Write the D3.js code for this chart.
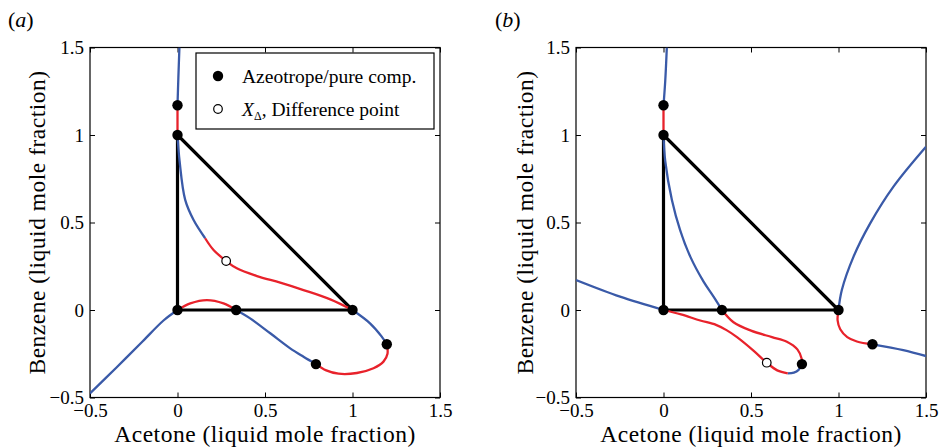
<!DOCTYPE html>
<html>
<head>
<meta charset="utf-8">
<script src="https://cdn.jsdelivr.net/npm/d3@7"></script>
<style>
  body { margin: 0; background: #fff; }
  svg { display: block; }
  svg text { font-family: "Liberation Serif", "Times New Roman", serif; fill: #000; }
</style>
</head>
<body>
<svg id="chart" width="939" height="448"></svg>
<script>
// ---------- data ----------
const xTickValues = [-0.5, 0, 0.5, 1, 1.5];
const yTickValues = [-0.5, 0, 0.5, 1, 1.5];
const tickLabels = ["\u22120.5", "0", "0.5", "1", "1.5"];
const panelLabels = ["a", "b"];
const xAxisTitle = "Acetone (liquid mole fraction)";
const yAxisTitle = "Benzene (liquid mole fraction)";
const legendLabels = ["Azeotrope/pure comp.", "Difference point"];

// triangle (pure components)
const triangle = [[0, 0], [1, 0], [0, 1], [0, 0]];

// Panel (a) curve segments
const aBlueTop = [[0.011, 1.5], [0.005, 1.33], [0, 1.17]];
const aRedTop = [[0, 1.17], [0, 1.0]];
const aBlueMid = [[0, 1.0], [0.012, 0.85], [0.044, 0.629], [0.092, 0.514], [0.158, 0.41]];
const aRedMid = [[0.158, 0.41], [0.206, 0.343], [0.278, 0.28], [0.339, 0.238], [0.454, 0.194], [0.587, 0.156], [0.72, 0.114], [0.873, 0.061], [1, 0]];
const aBlueRight = [[1, 0], [1.1, -0.076], [1.167, -0.152], [1.196, -0.196]];
const aRedLoop = [[1.196, -0.196], [1.2, -0.25], [1.177, -0.295], [1.12, -0.333], [1.025, -0.36], [0.92, -0.364], [0.85, -0.345], [0.791, -0.309]];
const aBlueLower = [[0.791, -0.309], [0.72, -0.267], [0.644, -0.219], [0.53, -0.133], [0.415, -0.048], [0.335, 0]];
const aRedArc = [[0.335, 0], [0.263, 0.038], [0.168, 0.057], [0.073, 0.038], [0, 0]];
const aBlueLeft = [[0, 0], [-0.08, -0.06], [-0.2, -0.18], [-0.35, -0.33], [-0.5, -0.476]];
const aAzeotropes = [[0, 1.17], [0, 1], [0, 0], [0.335, 0], [1, 0], [1.196, -0.196], [0.791, -0.309]];
const aDifference = [[0.278, 0.28]];

// Panel (b) curve segments
const bBlueTop = [[0.019, 1.5], [0.01, 1.31], [0, 1.17]];
const bRedTop = [[0, 1.17], [0, 1.0]];
const bBlueMid = [[0, 1.0], [0.01, 0.85], [0.048, 0.629], [0.095, 0.457], [0.153, 0.305], [0.229, 0.162], [0.286, 0.076], [0.334, 0]];
const bRedLobe = [[0.334, 0], [0.4, -0.07], [0.5, -0.118], [0.62, -0.155], [0.705, -0.181], [0.765, -0.225], [0.79, -0.28], [0.791, -0.309]];
const bBlueTip = [[0.791, -0.309], [0.772, -0.342], [0.745, -0.358], [0.71, -0.362]];
const bRedLower = [[0.71, -0.362], [0.65, -0.345], [0.59, -0.301], [0.514, -0.232], [0.42, -0.155], [0.36, -0.115], [0.3, -0.085], [0.21, -0.06], [0.1, -0.025], [0, 0]];
const bBlueLeft = [[0, 0], [-0.248, 0.076], [-0.5, 0.171]];
const bBlueRightUp = [[1, 0], [1.019, 0.114], [1.086, 0.305], [1.181, 0.495], [1.314, 0.705], [1.5, 0.933]];
const bRedRight = [[1, 0], [0.995, -0.06], [1.01, -0.11], [1.05, -0.155], [1.105, -0.18], [1.194, -0.196]];
const bBlueRightDown = [[1.194, -0.196], [1.37, -0.229], [1.5, -0.263]];
const bAzeotropes = [[0, 1.17], [0, 1], [0, 0], [0.334, 0], [1, 0], [1.194, -0.196], [0.791, -0.309]];
const bDifference = [[0.59, -0.301]];

const panels = [
  { key: "a", left: 90, blue: [aBlueTop, aBlueMid, aBlueRight, aBlueLower, aBlueLeft],
    red: [aRedTop, aRedMid, aRedLoop, aRedArc], az: aAzeotropes, diff: aDifference,
    legend: true, labelX: 8, ylabX: 45 },
  { key: "b", left: 576, blue: [bBlueTop, bBlueMid, bBlueTip, bBlueLeft, bBlueRightUp, bBlueRightDown],
    red: [bRedTop, bRedLobe, bRedLower, bRedRight], az: bAzeotropes, diff: bDifference,
    legend: false, labelX: 495, ylabX: 533 }
];

// ---------- drawing ----------
const BLUE = "#3a5aa8", RED = "#e8222b";
const FONT = "'Liberation Serif', 'Times New Roman', serif";
const svg = d3.select("#chart");
const plotTop = 47.5, size = 350;

panels.forEach((p, i) => {
  const x = d3.scaleLinear().domain([-0.5, 1.5]).range([p.left, p.left + size]);
  const y = d3.scaleLinear().domain([-0.5, 1.5]).range([plotTop + size, plotTop]);
  const g = svg.append("g");

  const clipId = "clip" + p.key;
  svg.append("clipPath").attr("id", clipId).append("rect")
    .attr("x", p.left).attr("y", plotTop).attr("width", size).attr("height", size);

  const fmt = (d) => tickLabels[xTickValues.indexOf(d)];
  const axB = g.append("g").attr("transform", `translate(0,${plotTop + size})`)
    .call(d3.axisBottom(x).tickValues(xTickValues).tickSize(-5).tickPadding(6).tickFormat(fmt));
  const axT = g.append("g").attr("transform", `translate(0,${plotTop})`)
    .call(d3.axisTop(x).tickValues(xTickValues).tickSize(-5).tickFormat(""));
  const axL = g.append("g").attr("transform", `translate(${p.left},0)`)
    .call(d3.axisLeft(y).tickValues(yTickValues).tickSize(-5).tickPadding(6)
      .tickFormat((d) => tickLabels[yTickValues.indexOf(d)]));
  const axR = g.append("g").attr("transform", `translate(${p.left + size},0)`)
    .call(d3.axisRight(y).tickValues(yTickValues).tickSize(-5).tickFormat(""));
  [axB, axT, axL, axR].forEach(a => {
    a.attr("font-family", null).attr("font-size", null);
    a.select(".domain").remove();
    a.selectAll("line").attr("stroke", "#000").attr("stroke-width", 1);
    a.selectAll("text").style("font-family", FONT).style("font-size", "19px").attr("fill", "#000");
  });
  axB.selectAll("text").attr("dy", "0.71em");

  g.append("rect").attr("x", p.left).attr("y", plotTop).attr("width", size).attr("height", size)
    .attr("fill", "none").attr("stroke", "#000").attr("stroke-width", 1.2);

  const plot = g.append("g").attr("clip-path", `url(#${clipId})`);
  const line = d3.line().x(d => x(d[0])).y(d => y(d[1])).curve(d3.curveCatmullRom.alpha(0.5));
  const straight = d3.line().x(d => x(d[0])).y(d => y(d[1]));

  plot.append("path").attr("d", straight(triangle)).attr("fill", "none")
    .attr("stroke", "#000").attr("stroke-width", 3.2).attr("stroke-linejoin", "round");

  p.blue.forEach(seg => plot.append("path").attr("d", line(seg)).attr("fill", "none")
    .attr("stroke", BLUE).attr("stroke-width", 2.3));
  p.red.forEach(seg => plot.append("path").attr("d", line(seg)).attr("fill", "none")
    .attr("stroke", RED).attr("stroke-width", 2.3));

  plot.selectAll("circle.az").data(p.az).enter().append("circle").attr("class", "az")
    .attr("cx", d => x(d[0])).attr("cy", d => y(d[1])).attr("r", 5.2).attr("fill", "#000");
  plot.selectAll("circle.diff").data(p.diff).enter().append("circle").attr("class", "diff")
    .attr("cx", d => x(d[0])).attr("cy", d => y(d[1])).attr("r", 4.3)
    .attr("fill", "#fff").attr("stroke", "#000").attr("stroke-width", 1.2);

  g.append("text").attr("x", p.left + size / 2).attr("y", 442).attr("text-anchor", "middle")
    .style("font-family", FONT).style("font-size", "23.5px").style("letter-spacing", "0.5px").text(xAxisTitle);
  g.append("text").attr("transform", `translate(${p.ylabX},${plotTop + size / 2}) rotate(-90)`)
    .attr("text-anchor", "middle").style("font-family", FONT).style("font-size", "23.5px")
    .style("letter-spacing", "0.5px").text(yAxisTitle);

  const pl = g.append("text").attr("x", p.labelX).attr("y", 27)
    .style("font-family", FONT).style("font-size", "22px");
  pl.append("tspan").text("(");
  pl.append("tspan").attr("font-style", "italic").text(p.key);
  pl.append("tspan").text(")");

  if (p.legend) {
    const lg = g.append("g");
    lg.append("rect").attr("x", 196).attr("y", 53).attr("width", 238).attr("height", 76)
      .attr("fill", "#fff").attr("stroke", "#000").attr("stroke-width", 1.2);
    lg.append("circle").attr("cx", 218).attr("cy", 76).attr("r", 5.2).attr("fill", "#000");
    lg.append("text").attr("x", 242).attr("y", 82.5).style("font-family", FONT)
      .style("font-size", "19.5px").text(legendLabels[0]);
    lg.append("circle").attr("cx", 218).attr("cy", 109).attr("r", 4.3)
      .attr("fill", "#fff").attr("stroke", "#000").attr("stroke-width", 1.2);
    const t2 = lg.append("text").attr("x", 242).attr("y", 115.5).style("font-family", FONT)
      .style("font-size", "19.5px");
    t2.append("tspan").attr("font-style", "italic").text("X");
    t2.append("tspan").style("font-size", "12px").attr("dy", 4).text("\u0394");
    t2.append("tspan").attr("dy", -4).text(", " + legendLabels[1]);
  }
});
</script>
</body>
</html>
